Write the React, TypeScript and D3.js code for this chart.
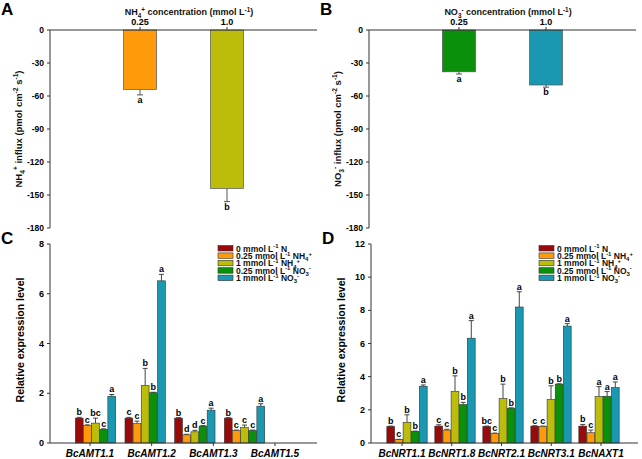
import React from 'react';
import * as d3 from 'd3';

type Seg = { t: string; s?: 'sup' | 'sub' };

// panel A / B : ion influx
const concLabels = ['0.25', '1.0'];
const nh4Influx = [-54, -144];
const nh4Err = [5, 12];
const nh4Letters = ['a', 'b'];
const no3Influx = [-38, -50];
const no3Err = [2, 2];
const no3Letters = ['a', 'b'];
const influxTicks = [0, -30, -60, -90, -120, -150, -180];

// panel C / D : relative expression
const amtGenes = ['BcAMT1.1', 'BcAMT1.2', 'BcAMT1.3', 'BcAMT1.5'];
const amtValues = [
  [1.0, 0.7, 0.8, 0.55, 1.88],
  [1.0, 0.78, 2.32, 2.02, 6.52],
  [1.0, 0.33, 0.45, 0.68, 1.32],
  [1.0, 0.5, 0.62, 0.5, 1.48],
];
const amtErr = [
  [0.03, 0.03, 0.2, 0.02, 0.07],
  [0.03, 0.1, 0.68, 0.02, 0.26],
  [0.02, 0.02, 0.06, 0.02, 0.08],
  [0.02, 0.02, 0.1, 0.02, 0.1],
];
const amtLetters = [
  ['b', 'c', 'bc', 'c', 'a'],
  ['c', 'c', 'b', 'b', 'a'],
  ['b', 'd', 'd', 'c', 'a'],
  ['b', 'c', 'c', 'c', 'a'],
];
const nrtGenes = ['BcNRT1.1', 'BcNRT1.8', 'BcNRT2.1', 'BcNRT3.1', 'BcNAXT1'];
const nrtValues = [
  [1.0, 0.2, 1.25, 0.7, 3.42],
  [1.02, 0.78, 3.12, 2.32, 6.32],
  [1.0, 0.58, 2.68, 2.1, 8.2],
  [1.02, 1.0, 2.62, 3.55, 7.05],
  [1.02, 0.62, 2.8, 2.82, 3.35],
];
const nrtErr = [
  [0.02, 0.02, 0.45, 0.02, 0.08],
  [0.08, 0.05, 0.93, 0.13, 1.06],
  [0.02, 0.02, 0.87, 0.02, 0.92],
  [0.02, 0.02, 0.83, 0.02, 0.15],
  [0.1, 0.16, 0.6, 0.28, 0.33],
];
const nrtLetters = [
  ['b', 'c', 'b', 'b', 'a'],
  ['c', 'c', 'b', 'b', 'a'],
  ['bc', 'c', 'b', 'b', 'a'],
  ['c', 'c', 'b', 'b', 'a'],
  ['b', 'c', 'a', 'a', 'a'],
];
const amtTicks = [0, 2, 4, 6, 8];
const nrtTicks = [0, 2, 4, 6, 8, 10, 12];

const treatments: Seg[][] = [
  [{ t: '0 mmol L' }, { t: '-1', s: 'sup' }, { t: ' N' }],
  [{ t: '0.25 mmol L' }, { t: '-1', s: 'sup' }, { t: ' NH' }, { t: '4', s: 'sub' }, { t: '+', s: 'sup' }],
  [{ t: '1 mmol L' }, { t: '-1', s: 'sup' }, { t: ' NH' }, { t: '4', s: 'sub' }, { t: '+', s: 'sup' }],
  [{ t: '0.25 mmol L' }, { t: '-1', s: 'sup' }, { t: ' NO' }, { t: '3', s: 'sub' }, { t: '-', s: 'sup' }],
  [{ t: '1 mmol L' }, { t: '-1', s: 'sup' }, { t: ' NO' }, { t: '3', s: 'sub' }, { t: '-', s: 'sup' }],
];
const colors = ['#9a0a0a', '#ff9a0a', '#bcbc0a', '#0a900a', '#1a98b2'];

const FONT = 'Liberation Sans, Arial, sans-serif';
const AXIS = '#333';

function Rich({ segs, x, y, size, anchor = 'start', rotate = 0 }: { segs: Seg[]; x: number; y: number; size: number; anchor?: string; rotate?: number }) {
  let shift = 0;
  return (
    <text x={x} y={y} fontSize={size} fontWeight="bold" fontFamily={FONT} textAnchor={anchor}
      transform={rotate ? `rotate(${rotate},${x},${y})` : undefined} fill="#111">
      {segs.map((s, i) => {
        const target = s.s === 'sup' ? -size * 0.38 : s.s === 'sub' ? size * 0.28 : 0;
        const dy = target - shift;
        shift = target;
        return (
          <tspan key={i} dy={dy} fontSize={s.s ? size * 0.7 : size}>{s.t}</tspan>
        );
      })}
    </text>
  );
}

function InfluxPanel({ ox, letter, ion, values, errs, letters, barColors }: any) {
  const x0 = ox + 50, x1 = ox + 317;
  const y = d3.scaleLinear().domain([-180, 0]).range([228, 30]);
  const xs = d3.scalePoint<string>().domain(concLabels).range([ox + 140, ox + 227]);
  const bw = 33;
  const ionSegs: Seg[] = ion === 'NH4'
    ? [{ t: 'NH' }, { t: '4', s: 'sub' }, { t: '+', s: 'sup' }]
    : [{ t: 'NO' }, { t: '3', s: 'sub' }, { t: '-', s: 'sup' }];
  return (
    <g>
      <text x={ox + 1} y={15} fontSize={17} fontWeight="bold" fontFamily={FONT}>{letter}</text>
      <Rich x={ox + 189} y={15} size={9} anchor="middle"
        segs={[...ionSegs, { t: ' concentration (mmol L' }, { t: '-1', s: 'sup' }, { t: ')' }]} />
      <Rich x={ox + 22} y={129} size={9.5} anchor="middle" rotate={-90}
        segs={[...ionSegs, { t: ' influx (pmol cm' }, { t: '-2', s: 'sup' }, { t: ' s' }, { t: '-1', s: 'sup' }, { t: ')' }]} />
      {values.map((v: number, i: number) => {
        const cx = xs(concLabels[i])!;
        const yEnd = y(v - errs[i]);
        return (
          <g key={i}>
            <rect x={cx - bw / 2} y={y(0)} width={bw} height={y(v) - y(0)} fill={barColors[i]} stroke="#555" strokeWidth={0.7} />
            <line x1={cx} x2={cx} y1={y(v)} y2={yEnd} stroke="#555" strokeWidth={1} />
            <line x1={cx - 3} x2={cx + 3} y1={yEnd} y2={yEnd} stroke="#555" strokeWidth={1} />
            <text x={cx} y={yEnd + 8} fontSize={9} fontWeight="bold" fontFamily={FONT} textAnchor="middle">{letters[i]}</text>
          </g>
        );
      })}
      <line x1={x0} x2={x1} y1={y(0)} y2={y(0)} stroke={AXIS} strokeWidth={1} />
      {concLabels.map(c => (
        <g key={c}>
          <line x1={xs(c)} x2={xs(c)} y1={y(0)} y2={y(0) - 3} stroke={AXIS} />
          <text x={xs(c)} y={25} fontSize={9} fontWeight="bold" fontFamily={FONT} textAnchor="middle">{c}</text>
        </g>
      ))}
      <line x1={x0} x2={x0} y1={y(0)} y2={y(-180)} stroke={AXIS} strokeWidth={1} />
      {influxTicks.map(t => (
        <g key={t}>
          <line x1={x0 - 3} x2={x0} y1={y(t)} y2={y(t)} stroke={AXIS} />
          <text x={x0 - 6} y={y(t) + 3} fontSize={8.5} fontWeight="bold" fontFamily={FONT} textAnchor="end">{t}</text>
        </g>
      ))}
    </g>
  );
}

function ExprPanel({ ox, letter, genes, values, errs, letters, ticks, max, barRange, labelRange, legendX }: any) {
  const x0 = ox + 50, x1 = ox + 317;
  const y = d3.scaleLinear().domain([0, max]).range([443, 244]);
  const xg = d3.scalePoint<string>().domain(genes).range(barRange);
  const xl = d3.scalePoint<string>().domain(genes).range(labelRange);
  const xb = d3.scaleBand<number>().domain([0, 1, 2, 3, 4]).range([-20.5, 20.5]).padding(0.04);
  return (
    <g>
      <text x={ox + 1} y={244} fontSize={17} fontWeight="bold" fontFamily={FONT}>{letter}</text>
      <text x={ox + 24} y={340} fontSize={10.5} fontWeight="bold" fontFamily={FONT} textAnchor="middle"
        transform={`rotate(-90,${ox + 24},${340})`}>Relative expression level</text>
      {genes.map((g: string, gi: number) => (
        <g key={g}>
          {values[gi].map((v: number, i: number) => {
            const bx = xg(g)! + xb(i)!;
            const cx = bx + xb.bandwidth() / 2;
            const top = y(v + errs[gi][i]);
            return (
              <g key={i}>
                <line x1={cx} x2={cx} y1={y(v)} y2={top} stroke="#444" strokeWidth={1} />
                <line x1={cx - 2.5} x2={cx + 2.5} y1={top} y2={top} stroke="#444" strokeWidth={1} />
                <rect x={bx} y={y(v)} width={xb.bandwidth()} height={y(0) - y(v)} fill={colors[i]} stroke="#333" strokeWidth={0.6} />
                <text x={cx} y={top - 2} fontSize={9} fontWeight="bold" fontFamily={FONT} textAnchor="middle">{letters[gi][i]}</text>
              </g>
            );
          })}
          <line x1={xl(g)} x2={xl(g)} y1={y(0)} y2={y(0) + 3} stroke={AXIS} />
          <text x={xl(g)} y={457} fontSize={10} fontWeight="bold" fontStyle="italic" fontFamily={FONT} textAnchor="middle">{g}</text>
        </g>
      ))}
      <line x1={x0} x2={x1} y1={y(0)} y2={y(0)} stroke={AXIS} strokeWidth={1} />
      <line x1={x0} x2={x0} y1={y(0)} y2={y(max)} stroke={AXIS} strokeWidth={1} />
      {ticks.map((t: number) => (
        <g key={t}>
          <line x1={x0 - 3} x2={x0} y1={y(t)} y2={y(t)} stroke={AXIS} />
          <text x={x0 - 6} y={y(t) + 3} fontSize={9} fontWeight="bold" fontFamily={FONT} textAnchor="end">{t}</text>
        </g>
      ))}
      {treatments.map((segs, i) => (
        <g key={i}>
          <rect x={legendX} y={245.5 + i * 7.4} width={15} height={5.5} fill={colors[i]} stroke="#333" strokeWidth={0.6} />
          <Rich x={legendX + 18} y={251.5 + i * 7.4} size={8.5} segs={segs} />
        </g>
      ))}
    </g>
  );
}

export default function App() {
  return (
    <svg width={642} height={459} style={{ position: 'absolute', left: 0, top: 0, background: '#fff' }}>
      <rect width={642} height={459} fill="#fff" />
      <InfluxPanel ox={0} letter="A" ion="NH4" values={nh4Influx} errs={nh4Err} letters={nh4Letters}
        barColors={[colors[1], colors[2]]} />
      <InfluxPanel ox={319} letter="B" ion="NO3" values={no3Influx} errs={no3Err} letters={no3Letters}
        barColors={[colors[3], colors[4]]} />
      <ExprPanel ox={0} letter="C" genes={amtGenes} values={amtValues} errs={amtErr} letters={amtLetters}
        ticks={amtTicks} max={8} barRange={[95.5, 244.5]} labelRange={[90, 275]} legendX={218} />
      <ExprPanel ox={321} letter="D" genes={nrtGenes} values={nrtValues} errs={nrtErr} letters={nrtLetters}
        ticks={nrtTicks} max={12} barRange={[407, 599]} labelRange={[402, 601]} legendX={539} />
    </svg>
  );
}
